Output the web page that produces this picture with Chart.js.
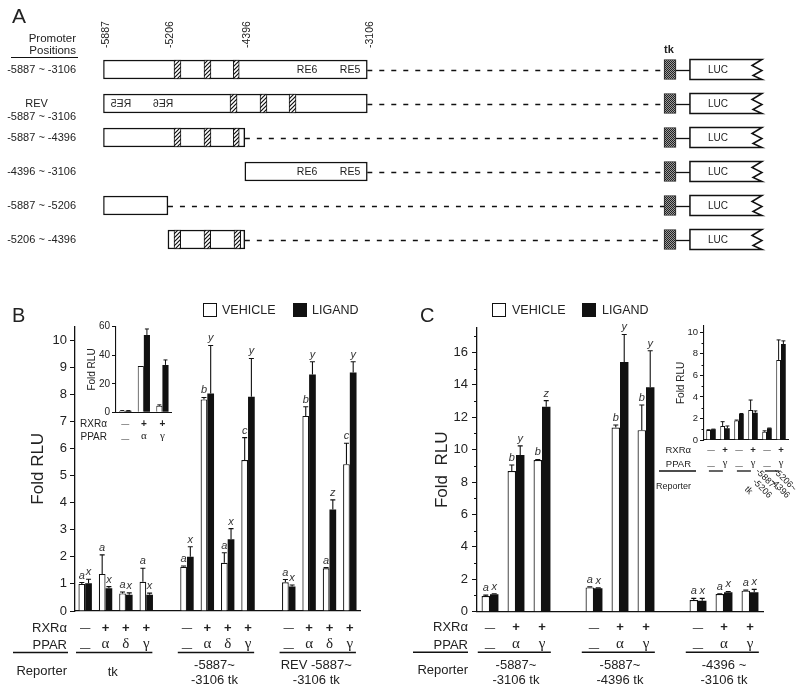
<!DOCTYPE html>
<html><head><meta charset="utf-8">
<script src="https://cdn.jsdelivr.net/npm/chart.js@4.4.1/dist/chart.umd.min.js"></script>
<style>
html,body{margin:0;padding:0;background:#fff;}
#fig{position:relative;width:800px;height:692px;overflow:hidden;font-family:"Liberation Sans",Arial,Helvetica,sans-serif;color:#222;}
.cv{position:absolute;}
.t{position:absolute;white-space:nowrap;line-height:1;}
.sq{position:absolute;width:14px;height:14px;border:1.5px solid #111;box-sizing:border-box;}
</style></head><body>
<div id="fig">
  <canvas id="cA" class="cv" width="800" height="260" style="left:0;top:0"></canvas>
  <canvas id="cB" class="cv" width="400" height="402" style="left:0;top:290px"></canvas>
  <canvas id="cBi" class="cv" width="100" height="140" style="left:80px;top:318px"></canvas>
  <canvas id="cC" class="cv" width="400" height="402" style="left:400px;top:290px"></canvas>
  <canvas id="cCi" class="cv" width="150" height="200" style="left:650px;top:315px"></canvas>

  <div class="t" style="left:12px;top:5px;font-size:21px">A</div>
  <div class="t" style="right:724px;top:32.6px;font-size:11.5px;text-align:right">Promoter</div>
  <div class="t" style="right:724px;top:44.8px;font-size:11.5px;text-align:right">Positions</div>
  <div style="position:absolute;left:11px;top:56.5px;width:67px;height:1.3px;background:#111"></div>
  <div class="t" style="left:664px;top:43.7px;font-size:11px;font-weight:bold">tk</div>

  <div class="t" style="left:12px;top:305px;font-size:20px">B</div>
  <div class="sq" style="left:203px;top:303px;background:#fff"></div>
  <div class="t" style="left:222px;top:303.9px;font-size:12.5px">VEHICLE</div>
  <div class="sq" style="left:293px;top:303px;background:#111"></div>
  <div class="t" style="left:312px;top:303.9px;font-size:12.5px">LIGAND</div>

  <div class="t" style="left:420px;top:305px;font-size:20px">C</div>
  <div class="sq" style="left:492px;top:303px;background:#fff"></div>
  <div class="t" style="left:512px;top:303.9px;font-size:12.5px">VEHICLE</div>
  <div class="sq" style="left:582px;top:303px;background:#111"></div>
  <div class="t" style="left:602px;top:303.9px;font-size:12.5px">LIGAND</div>
</div>
<script>
// ================= DATA =================
// Panel A : promoter constructs (positions in bp; tk / LUC in schematic units on the same axis)
const aRowLabels = [['-5887 ~ -3106'], ['REV', '-5887 ~ -3106'], ['-5887 ~ -4396'], ['-4396 ~ -3106'], ['-5887 ~ -5206'], ['-5206 ~ -4396']];
const aPositionTicks = [-5887, -5206, -4396, -3106];
const aInserts = [[-5887, -3106], [-5887, -3106], [-5887, -4396], [-4396, -3106], [-5887, -5206], [-5206, -4396]];
const aSite1 = [[-5142, -5069], [-4552, -4478], [-5142, -5069], null, null, [-5142, -5072]];
const aSite2 = [[-4826, -4753], [-4236, -4163], [-4826, -4753], null, null, [-4826, -4756]];
const aSite3 = [[-4518, -4455], [-3930, -3857], [-4518, -4455], null, null, [-4510, -4440]];
const aRE6 = [-3741, -5258, null, -3741, null, null];
const aRE5 = [-3288, -5701, null, -3288, null, null];
const aReversed = [false, true, false, false, false, false];
const aTk = [[20, 146], [20, 146], [20, 146], [20, 146], [20, 146], [20, 146]];
const aLuc = [[293, 1052], [293, 1052], [293, 1052], [293, 1052], [293, 1052], [293, 1052]];

// Panel B main
const bRXR  = ['—', '+', '+', '+', '', '—', '+', '+', '+', '', '—', '+', '+', '+'];
const bPPAR = ['—', 'α', 'δ', 'γ', '', '—', 'α', 'δ', 'γ', '', '—', 'α', 'δ', 'γ'];
const bVehicle   = [1.0, 1.37, 0.65, 1.08, null, 1.63, 7.81, 1.78, 5.57, null, 1.06, 7.20, 1.58, 5.42];
const bVehicleSD = [0.05, 0.70, 0.05, 0.50, null, 0.03, 0.07, 0.37, 0.83, null, 0.10, 0.34, 0.02, 0.77];
const bLigand    = [1.02, 0.84, 0.60, 0.60, null, 2.00, 8.03, 2.65, 7.91, null, 0.90, 8.73, 3.75, 8.80];
const bLigandSD  = [0.15, 0.06, 0.07, 0.06, null, 0.37, 1.77, 0.39, 1.41, null, 0.06, 0.47, 0.35, 0.40];
const bVehicleSig = ['a', 'a', 'a', 'a', null, 'a', 'b', 'a', 'c', null, 'a', 'b', 'a', 'c'];
const bLigandSig  = ['x', 'x', 'x', 'x', null, 'x', 'y', 'x', 'y', null, 'x', 'y', 'z', 'y'];
const bReporters = [['tk'], ['-5887~', '-3106 tk'], ['REV -5887~', '-3106 tk']];
const bReporterSpans = [[0, 3], [5, 8], [10, 13]];

// Panel B inset
const biRXR = ['—', '+', '+'];
const biPPAR = ['—', 'α', 'γ'];
const biVehicle = [1.0, 32.5, 4.6];
const biVehicleSD = [0.2, 0, 0.6];
const biLigand = [1.0, 54.2, 33.2];
const biLigandSD = [0.2, 4.2, 3.5];

// Panel C main
const cRXR  = ['—', '+', '+', '', '—', '+', '+', '', '—', '+', '+'];
const cPPAR = ['—', 'α', 'γ', '', '—', 'α', 'γ', '', '—', 'α', 'γ'];
const cVehicle   = [0.97, 8.68, 9.36, null, 1.50, 11.36, 11.20, null, 0.72, 1.09, 1.30];
const cVehicleSD = [0.05, 0.37, 0.03, null, 0.03, 0.16, 1.55, null, 0.10, 0.02, 0.03];
const cLigand    = [1.07, 9.67, 12.65, null, 1.44, 15.40, 13.85, null, 0.68, 1.20, 1.20];
const cLigandSD  = [0.04, 0.56, 0.37, null, 0.03, 1.70, 2.25, null, 0.14, 0.05, 0.18];
const cVehicleSig = ['a', 'b', 'b', null, 'a', 'b', 'b', null, 'a', 'a', 'a'];
const cLigandSig  = ['x', 'y', 'z', null, 'x', 'y', 'y', null, 'x', 'x', 'x'];
const cReporters = [['-5887~', '-3106 tk'], ['-5887~', '-4396 tk'], ['-4396 ~', '-3106 tk']];
const cReporterSpans = [[0, 2], [4, 6], [8, 10]];

// Panel C inset
const ciRXR = ['—', '+', '—', '+', '—', '+'];
const ciPPAR = ['—', 'γ', '—', 'γ', '—', 'γ'];
const ciVehicle = [0.93, 1.30, 1.80, 2.79, 0.77, 7.43];
const ciVehicleSD = [0.02, 0.40, 0.05, 0.92, 0.08, 1.86];
const ciLigand = [0.99, 1.08, 2.41, 2.54, 1.08, 8.91];
const ciLigandSD = [0.02, 0.22, 0.05, 0.16, 0.03, 0.29];
const ciReporters = [['tk'], ['-5887~', '-5206'], ['-5206~', '-4396']];
const ciReporterSpans = [[0, 1], [2, 3], [4, 5]];

// ================= RENDERING =================
const SANS = '"Liberation Sans", Arial, Helvetica, sans-serif';
const SERIF = '"Liberation Serif", "Times New Roman", serif';
Chart.defaults.font.family = SANS;
Chart.defaults.color = '#222';

const GREEK = /[αβγδ]/;

const barDecor = {
  id: 'barDecor',
  afterDatasetsDraw(chart, args, o) {
    const ctx = chart.ctx, ys = chart.scales.y;
    ctx.save();
    chart.data.datasets.forEach((ds, di) => {
      const meta = chart.getDatasetMeta(di);
      meta.data.forEach((el, i) => {
        const v = ds.data[i];
        if (v == null) return;
        const sd = ds.sd ? (ds.sd[i] || 0) : 0;
        const yTop = ys.getPixelForValue(v + sd);
        if (sd > 0) {
          ctx.strokeStyle = '#111'; ctx.lineWidth = o.errWidth;
          ctx.beginPath();
          ctx.moveTo(el.x, el.y); ctx.lineTo(el.x, yTop);
          ctx.moveTo(el.x - o.cap / 2, yTop); ctx.lineTo(el.x + o.cap / 2, yTop);
          ctx.stroke();
        }
        if (ds.sig && ds.sig[i]) {
          ctx.font = `italic ${o.sigSize}px ${SANS}`; ctx.fillStyle = '#333';
          ctx.textAlign = 'center'; ctx.textBaseline = 'alphabetic';
          ctx.fillText(ds.sig[i], el.x, Math.min(yTop, el.y) - o.sigGap);
        }
      });
    });
    ctx.restore();
  },
  afterDraw(chart, args, o) {
    const ctx = chart.ctx, ca = chart.chartArea, xs = chart.scales.x, ys = chart.scales.y;
    ctx.save();
    ctx.fillStyle = '#222'; ctx.strokeStyle = '#111';
    // minor ticks
    if (o.minorStep) {
      ctx.lineWidth = 1;
      for (let v = ys.min + o.minorStep; v < ys.max; v += o.minorStep * 2) {
        const py = Math.round(ys.getPixelForValue(v)) + 0.5;
        ctx.beginPath(); ctx.moveTo(ca.left - o.minorLen, py); ctx.lineTo(ca.left, py); ctx.stroke();
      }
    }
    const slot = xs.getPixelForValue(1) - xs.getPixelForValue(0);
    // condition rows
    ctx.textBaseline = 'middle';
    o.rows.forEach(r => {
      const y = ca.bottom + r.dy;
      ctx.font = `${o.rowSize}px ${SANS}`; ctx.textAlign = 'right';
      ctx.fillText(r.name, ca.left - o.nameGap, y);
      ctx.textAlign = 'center';
      r.values.forEach((s, i) => {
        if (!s) return;
        const x = xs.getPixelForValue(i);
        if (s === '—') { ctx.font = `${o.rowSize * 0.8}px ${SANS}`; ctx.fillText(s, x, y + (r.dashDy || 0)); }
        else if (GREEK.test(s)) { ctx.font = `${o.greekSize}px ${SERIF}`; ctx.fillText(s, x, y - 1); }
        else { ctx.font = `bold ${o.rowSize}px ${SANS}`; ctx.fillText(s, x, y); }
      });
    });
    // group lines and reporter labels
    if (o.groups) {
      ctx.lineWidth = o.lineW;
      const ly = ca.bottom + o.lineDy;
      ctx.beginPath(); ctx.moveTo(ca.left + o.nameLine[0], ly); ctx.lineTo(ca.left + o.nameLine[1], ly); ctx.stroke();
      ctx.font = `${o.repSize}px ${SANS}`; ctx.textAlign = 'right';
      ctx.fillText('Reporter', ca.left - o.nameGap, ca.bottom + o.repNameDy);
      o.groups.spans.forEach((sp, g) => {
        const x0 = xs.getPixelForValue(sp[0]), x1 = xs.getPixelForValue(sp[1]);
        ctx.beginPath(); ctx.moveTo(x0 - slot * o.lineL, ly); ctx.lineTo(x1 + slot * o.lineR, ly); ctx.stroke();
        const lines = o.groups.labels[g];
        const cx = (x0 + x1) / 2 + o.repDx + (o.repOffsets ? o.repOffsets[g][0] : 0);
        const cy = ca.bottom + o.repDy + (o.repOffsets ? o.repOffsets[g][1] : 0);
        ctx.font = `${o.repSize}px ${SANS}`;
        if (o.repRotate) {
          ctx.save(); ctx.translate(cx, cy); ctx.rotate(o.repRotate * Math.PI / 180);
          ctx.textAlign = o.repAlign || 'left';
          lines.forEach((ln, k) => ctx.fillText(ln, 0, k * o.repLineH));
          ctx.restore();
        } else {
          ctx.textAlign = 'center';
          lines.forEach((ln, k) => ctx.fillText(ln, cx, cy + (k - (lines.length - 1) / 2) * o.repLineH));
        }
      });
    }
    ctx.restore();
  }
};

function barData(labels, veh, vehSD, vehSig, lig, ligSD, ligSig, bw) {
  return {
    labels,
    datasets: [
      {label: 'VEHICLE', data: veh, sd: vehSD, sig: vehSig, backgroundColor: '#fff', borderColor: '#111', borderWidth: bw},
      {label: 'LIGAND', data: lig, sd: ligSD, sig: ligSig, backgroundColor: '#111', borderColor: '#111', borderWidth: 0}
    ]
  };
}

function barOptions(p) {
  return {
    responsive: false, animation: false, events: [],
    layout: {padding: p.padding},
    datasets: {bar: {categoryPercentage: p.catPct, barPercentage: 1}},
    plugins: {legend: {display: false}, tooltip: {enabled: false}, barDecor: p.decor},
    scales: {
      x: {grid: {display: false}, ticks: {display: false},
          border: {display: true, color: '#111', width: p.axisW},
          afterFit: s => { s.height = 0; }},
      y: {min: 0, max: p.yMax,
          afterFit: s => { s.width = p.yWidth; },
          ticks: {stepSize: p.yStep, includeBounds: false, font: {size: p.tickSize}, color: '#222', padding: p.tickPad},
          grid: {display: true, drawOnChartArea: false, drawTicks: true, tickLength: p.tickLen, color: '#111', lineWidth: 1},
          border: {display: true, color: '#111', width: p.axisW},
          title: {display: true, text: p.title, font: {size: p.titleSize}, color: '#222', padding: {top: p.titlePad, bottom: 0}}}
    }
  };
}

const joinLabels = (r, q) => r.map((v, i) => v + ' ' + q[i]);

// ---- Panel B main ----
new Chart(document.getElementById('cB'), {
  type: 'bar',
  data: barData(joinLabels(bRXR, bPPAR), bVehicle, bVehicleSD, bVehicleSig, bLigand, bLigandSD, bLigandSig, 1.2),
  options: barOptions({
    padding: {left: 0, right: 40, top: 36.5, bottom: 81}, catPct: 0.66, axisW: 1.3,
    yMax: 10.5, yStep: 1, yWidth: 75, tickSize: 13, tickPad: 3, tickLen: 5,
    title: 'Fold RLU', titleSize: 17, titlePad: 28,
    decor: {errWidth: 1.1, cap: 5, sigSize: 11, sigGap: 4,
      rowSize: 13, greekSize: 15, nameGap: 8,
      rows: [{name: 'RXRα', values: bRXR, dy: 17}, {name: 'PPAR', values: bPPAR, dy: 34, dashDy: 3}],
      lineW: 1.4, lineDy: 41.5, nameLine: [-62, -7], lineL: 0.45, lineR: 0.3,
      groups: {spans: bReporterSpans, labels: bReporters},
      repSize: 13, repDy: 61.5, repNameDy: 60, repLineH: 15, repDx: -3}
  }),
  plugins: [barDecor]
});

// ---- Panel B inset ----
new Chart(document.getElementById('cBi'), {
  type: 'bar',
  data: barData(joinLabels(biRXR, biPPAR), biVehicle, biVehicleSD, null, biLigand, biLigandSD, null, 1),
  options: barOptions({
    padding: {left: 0, right: 8.3, top: 8.7, bottom: 45.7}, catPct: 0.66, axisW: 1.1,
    yMax: 60, yStep: 10, yWidth: 36, tickSize: 10, tickPad: 2, tickLen: 4,
    title: 'Fold RLU', titleSize: 10, titlePad: 6,
    decor: {errWidth: 1, cap: 4, sigSize: 9, sigGap: 3,
      rowSize: 10, greekSize: 11, nameGap: 9,
      rows: [{name: 'RXRα', values: biRXR, dy: 11.7}, {name: 'PPAR', values: biPPAR, dy: 24.7, dashDy: 2}]}
  }),
  plugins: [barDecor]
});

// ---- Panel C main ----
new Chart(document.getElementById('cC'), {
  type: 'bar',
  data: barData(joinLabels(cRXR, cPPAR), cVehicle, cVehicleSD, cVehicleSig, cLigand, cLigandSD, cLigandSig, 1.2),
  options: barOptions({
    padding: {left: 0, right: 37, top: 38, bottom: 80.3}, catPct: 0.65, axisW: 1.3,
    yMax: 17.5, yStep: 2, yWidth: 77, tickSize: 13, tickPad: 4, tickLen: 5,
    title: 'Fold  RLU', titleSize: 17, titlePad: 31.8,
    decor: {errWidth: 1.1, cap: 5, sigSize: 11, sigGap: 4, minorStep: 1, minorLen: 3,
      rowSize: 13, greekSize: 15, nameGap: 9,
      rows: [{name: 'RXRα', values: cRXR, dy: 16}, {name: 'PPAR', values: cPPAR, dy: 33.3, dashDy: 3}],
      lineW: 1.4, lineDy: 40.6, nameLine: [-64, -9], lineL: 0.47, lineR: 0.34,
      groups: {spans: cReporterSpans, labels: cReporters},
      repSize: 13, repDy: 61.3, repNameDy: 58.5, repLineH: 15.5, repDx: 0}
  }),
  plugins: [barDecor]
});

// ---- Panel C inset ----
new Chart(document.getElementById('cCi'), {
  type: 'bar',
  data: barData(joinLabels(ciRXR, ciPPAR), ciVehicle, ciVehicleSD, null, ciLigand, ciLigandSD, null, 1),
  options: barOptions({
    padding: {left: 0, right: 12, top: 10.8, bottom: 75}, catPct: 0.68, axisW: 1.1,
    yMax: 10.6, yStep: 2, yWidth: 54, tickSize: 9.5, tickPad: 2, tickLen: 4,
    title: 'Fold RLU', titleSize: 10, titlePad: 25,
    decor: {errWidth: 1, cap: 4, sigSize: 9, sigGap: 3, minorStep: 1, minorLen: 2.5,
      rowSize: 9.5, greekSize: 10.5, nameGap: 13,
      rows: [{name: 'RXRα', values: ciRXR, dy: 10}, {name: 'PPAR', values: ciPPAR, dy: 24, dashDy: 2}],
      lineW: 1.3, lineDy: 31, nameLine: [-45, -8], lineL: 0.15, lineR: -0.15,
      groups: {spans: ciReporterSpans, labels: ciReporters},
      repSize: 9, repDy: 0, repNameDy: 47, repLineH: 9.5, repDx: 0,
      repRotate: 45, repAlign: 'right', repOffsets: [[33, 53], [31, 50], [21, 50]]}
  }),
  plugins: [barDecor]
});

// ---- Panel A ----
const cA = document.getElementById('cA');
const actx = cA.getContext('2d');
function makeHatch() {
  const c = document.createElement('canvas'); c.width = 4; c.height = 4;
  const g = c.getContext('2d');
  g.fillStyle = '#fff'; g.fillRect(0, 0, 4, 4);
  g.strokeStyle = '#111'; g.lineWidth = 1.2;
  g.beginPath();
  g.moveTo(0, 4); g.lineTo(4, 0);
  g.moveTo(-1, 1); g.lineTo(1, -1);
  g.moveTo(3, 5); g.lineTo(5, 3);
  g.stroke();
  return actx.createPattern(c, 'repeat');
}
function makeStipple() {
  const c = document.createElement('canvas'); c.width = 2; c.height = 2;
  const g = c.getContext('2d');
  g.fillStyle = '#9a9a9a'; g.fillRect(0, 0, 2, 2);
  g.fillStyle = '#222'; g.fillRect(0, 0, 1, 1); g.fillRect(1, 1, 1, 1);
  return actx.createPattern(c, 'repeat');
}
const hatch = makeHatch(), stipple = makeStipple();

const aDecor = {
  id: 'aDecor',
  afterDatasetsDraw(chart, args, o) {
    const ctx = chart.ctx, ca = chart.chartArea, xs = chart.scales.x, ys = chart.scales.y;
    ctx.save();
    // promoter position labels (rotated), placed with the x scale
    ctx.fillStyle = '#222'; ctx.font = `${o.posSize}px ${SANS}`;
    ctx.textAlign = 'left'; ctx.textBaseline = 'middle';
    xs.ticks.forEach(t => {
      ctx.save();
      ctx.translate(xs.getPixelForValue(t.value) + o.posDx, ca.top - o.posGap);
      ctx.rotate(-Math.PI / 2);
      ctx.fillText(String(t.value), 0, 0);
      ctx.restore();
    });
    // row labels
    ctx.font = `${o.labelSize}px ${SANS}`; ctx.textBaseline = 'middle';
    aRowLabels.forEach((lines, i) => {
      const y = ys.getPixelForValue(i) + o.labelDy;
      const xr = ca.left - o.labelGap;
      if (lines.length === 1) { ctx.textAlign = 'right'; ctx.fillText(lines[0], xr, y); }
      else {
        const w = ctx.measureText(lines[1]).width;
        ctx.textAlign = 'center'; ctx.fillText(lines[0], xr - w / 2 - o.revShift, y);
        ctx.textAlign = 'right'; ctx.fillText(lines[1], xr, y + o.lineH);
      }
    });
    // connectors
    ctx.strokeStyle = '#111'; ctx.lineWidth = 1.3;
    aInserts.forEach((seg, i) => {
      const y = Math.round(ys.getPixelForValue(i)) + 0.5;
      ctx.setLineDash(o.dash);
      ctx.beginPath(); ctx.moveTo(xs.getPixelForValue(seg[1]), y); ctx.lineTo(xs.getPixelForValue(aTk[i][0]), y); ctx.stroke();
      ctx.setLineDash([]);
      ctx.beginPath(); ctx.moveTo(xs.getPixelForValue(aTk[i][1]), y); ctx.lineTo(xs.getPixelForValue(aLuc[i][0]), y); ctx.stroke();
    });
    // LUC reporter boxes with jagged end
    const meta = chart.getDatasetMeta(o.lucIndex);
    meta.data.forEach(el => {
      const p = el.getProps(['x', 'y', 'base', 'height'], true);
      const x0 = Math.min(p.x, p.base), x1 = Math.max(p.x, p.base);
      const t = p.y - p.height / 2, b = p.y + p.height / 2, h = p.height;
      ctx.fillStyle = '#fff'; ctx.strokeStyle = '#111'; ctx.lineWidth = 1.5;
      ctx.beginPath();
      ctx.moveTo(x0, t); ctx.lineTo(x1, t);
      ctx.lineTo(x1 - 10, t + 0.3 * h); ctx.lineTo(x1, t + 0.55 * h);
      ctx.lineTo(x1 - 9, t + 0.8 * h); ctx.lineTo(x1, b);
      ctx.lineTo(x0, b); ctx.closePath();
      ctx.fill(); ctx.stroke();
      ctx.fillStyle = '#222'; ctx.font = `${o.lucSize}px ${SANS}`; ctx.textAlign = 'center';
      ctx.fillText('LUC', x0 + o.lucDx, p.y + 0.5);
    });
    // RE labels
    ctx.font = `${o.reSize}px ${SANS}`; ctx.fillStyle = '#222'; ctx.textAlign = 'center'; ctx.textBaseline = 'middle';
    const drawRE = (txt, v, i) => {
      if (v == null) return;
      ctx.save();
      ctx.translate(xs.getPixelForValue(v), ys.getPixelForValue(i) + 0.5);
      if (aReversed[i]) ctx.scale(-1, 1);
      ctx.fillText(txt, 0, 0);
      ctx.restore();
    };
    aRE6.forEach((v, i) => drawRE('RE6', v, i));
    aRE5.forEach((v, i) => drawRE('RE5', v, i));
    ctx.restore();
  }
};

new Chart(cA, {
  type: 'bar',
  data: {
    labels: aRowLabels.map(l => l.join(' ')),
    datasets: [
      {label: 'site1', data: aSite1, backgroundColor: hatch, borderColor: '#111', borderWidth: 1, barThickness: 19, order: 1},
      {label: 'site2', data: aSite2, backgroundColor: hatch, borderColor: '#111', borderWidth: 1, barThickness: 19, order: 1},
      {label: 'site3', data: aSite3, backgroundColor: hatch, borderColor: '#111', borderWidth: 1, barThickness: 19, order: 1},
      {label: 'insert', data: aInserts, backgroundColor: '#fff', borderColor: '#111', borderWidth: 1.5, barThickness: 19, order: 2},
      {label: 'tk', data: aTk, backgroundColor: stipple, borderColor: '#222', borderWidth: 1, barThickness: 20, order: 1},
      {label: 'LUC', data: aLuc, backgroundColor: 'rgba(0,0,0,0)', borderWidth: 0, barThickness: 20, order: 1}
    ]
  },
  options: {
    indexAxis: 'y', responsive: false, animation: false, events: [],
    layout: {padding: {left: 0, right: 38, top: 0, bottom: 3.5}},
    datasets: {bar: {grouped: false, borderSkipped: false}},
    plugins: {legend: {display: false}, tooltip: {enabled: false},
      aDecor: {posSize: 10.5, posDx: 2.5, posGap: 4.5,
        labelSize: 11, labelGap: 27.3, labelDy: 0.5, lineH: 13, revShift: 5, dash: [5, 7], lucIndex: 5, lucSize: 10, lucDx: 28, reSize: 10.5}},
    scales: {
      x: {type: 'linear', position: 'top', min: -5887, max: 1052,
          afterFit: s => { s.height = 52.5; },
          afterBuildTicks: s => { s.ticks = aPositionTicks.map(v => ({value: v})); },
          ticks: {display: false},
          grid: {display: false}, border: {display: false}},
      y: {type: 'category', offset: true,
          afterFit: s => { s.width = 103.3; },
          ticks: {display: false}, grid: {display: false}, border: {display: false}}
    }
  },
  plugins: [aDecor]
});
</script>
</body></html>
